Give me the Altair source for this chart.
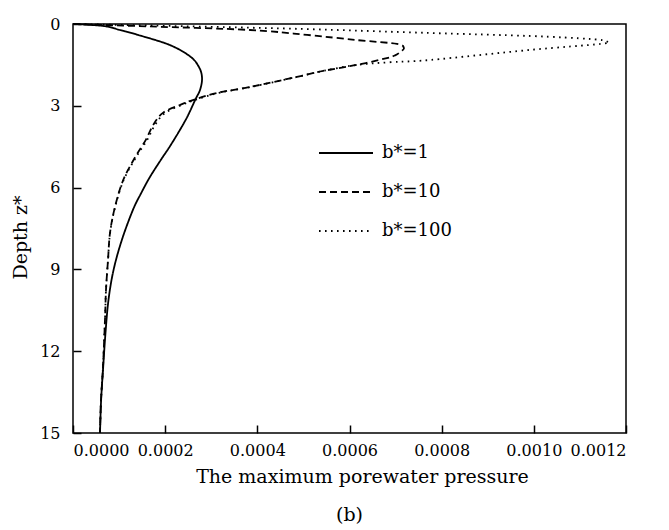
import altair as alt
import pandas as pd

# b* = 1 (solid)
depth_b1 = [0, 0.07, 0.22, 0.40, 0.77, 1.20, 1.60, 1.98, 2.40, 2.79, 3.50, 4.36, 5.00, 5.61,
            6.20, 6.82, 7.92, 9.02, 10.12, 11.33, 12.58, 13.79, 15.0]
press_b1 = [0, 0.000065, 0.000102, 0.000141, 0.000210, 0.000255, 0.000274, 0.000280, 0.000276,
            0.000265, 0.000245, 0.000215, 0.000190, 0.000167, 0.000148, 0.000130, 0.000106,
            0.000088, 0.000077, 0.0000705, 0.0000655, 0.000061, 0.0000586]

# b* = 10 (dashed)
depth_b10 = [0, 0.09, 0.22, 0.40, 0.59, 0.73, 0.88, 1.00, 1.14, 1.25, 1.50, 1.72, 1.94, 2.31,
             2.53, 2.79, 2.97, 3.26, 3.70, 4.25, 4.88, 5.72, 6.71, 7.66, 8.65, 9.75, 10.85,
             12.58, 13.79, 15.0]
press_b10 = [0, 0.000167, 0.000384, 0.000508, 0.000616, 0.000703, 0.000718, 0.000712, 0.000700,
             0.000681, 0.000616, 0.000543, 0.000486, 0.000384, 0.000312, 0.000260, 0.000232,
             0.000195, 0.000174, 0.000158, 0.000135, 0.000109, 0.0000911, 0.0000803,
             0.000076, 0.0000716, 0.0000694, 0.0000651, 0.0000608, 0.0000586]

# b* = 100 (dotted)
depth_b100 = [0, 0.055, 0.18, 0.33, 0.44, 0.55, 0.64, 0.73, 0.95, 1.32, 1.40, 1.50, 1.72, 1.94,
              2.31, 2.53, 2.79, 2.97, 3.26, 3.70, 4.25, 4.88, 5.72, 6.71, 7.66, 8.65, 9.75,
              10.85, 12.58, 13.79, 15.0]
press_b100 = [0, 0.000167, 0.000493, 0.000775, 0.000992, 0.001122, 0.001159, 0.001145, 0.000992,
              0.000775, 0.000690, 0.000616, 0.000543, 0.000486, 0.000386, 0.000315, 0.000264,
              0.000236, 0.000200, 0.000178, 0.000161, 0.000137, 0.000110, 0.0000915,
              0.0000805, 0.000076, 0.0000716, 0.0000694, 0.0000651, 0.0000608, 0.0000586]

series_labels = ["b*=1", "b*=10", "b*=100"]
x_ticks = [0, 0.0002, 0.0004, 0.0006, 0.0008, 0.0010, 0.0012]
y_ticks = [0, 3, 6, 9, 12, 15]

rows = []
for lab, zs, vs in zip(series_labels, [depth_b1, depth_b10, depth_b100],
                       [press_b1, press_b10, press_b100]):
    for i, (z, v) in enumerate(zip(zs, vs)):
        rows.append({"series": lab, "idx": i, "z": z, "v": v})
df = pd.DataFrame(rows)

FONT = "DejaVu Serif"

chart = alt.Chart(df).mark_line(
    interpolate="cardinal", strokeWidth=1.8, color="black"
).encode(
    x=alt.X("v:Q",
            scale=alt.Scale(domain=[0, 0.0012], nice=False, zero=False),
            axis=alt.Axis(values=x_ticks, format=".4f", title="The maximum porewater pressure",
                          offset=-8, domain=False, tickSize=8, tickColor="black", tickWidth=1.5,
                          labelPadding=9, labelFont=FONT, labelFontSize=16, labelColor="black",
                          titleFont=FONT, titleFontSize=19, titleFontWeight="normal",
                          titleColor="black", titlePadding=9, titleX=289, grid=False)),
    y=alt.Y("z:Q",
            scale=alt.Scale(domain=[0, 15], reverse=True, nice=False, zero=False),
            axis=alt.Axis(values=y_ticks, title="Depth z*",
                          offset=-8, domain=False, tickSize=8, tickColor="black", tickWidth=1.5,
                          labelPadding=13, labelFont=FONT, labelFontSize=16, labelColor="black",
                          titleFont=FONT, titleFontSize=19, titleFontWeight="normal",
                          titleColor="black", titlePadding=9, titleY=213, grid=False)),
    strokeDash=alt.StrokeDash("series:N",
                              scale=alt.Scale(domain=series_labels,
                                              range=[[1, 0], [7, 4], [1.6, 4.4]]),
                              legend=alt.Legend(title=None, orient="none", legendX=245, legendY=101,
                                                symbolType="stroke", symbolSize=2916,
                                                symbolStrokeColor="black", symbolStrokeWidth=1.8,
                                                labelFont=FONT, labelFontSize=18,
                                                labelColor="black", labelOffset=8)),
    order="idx:Q",
    detail="series:N",
).properties(
    width=553, height=409,
    padding={"left": 3, "top": 8, "right": 5, "bottom": 5},
    title=alt.TitleParams("(b)", orient="bottom", font=FONT, fontSize=19,
                          fontWeight="normal", color="black", offset=20),
).configure_view(stroke="black", strokeWidth=1.5)

chart.save("out.html", embed_options={"renderer": "svg", "actions": False})
